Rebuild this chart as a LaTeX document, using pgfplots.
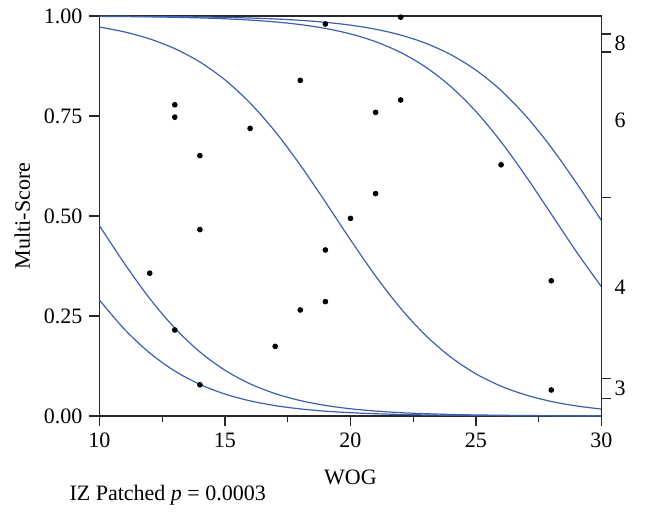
\documentclass[border=0pt]{standalone}
\usepackage{pgfplots}
\usepackage{pgfplotstable}
\pgfplotsset{compat=1.18}
\usepackage{fontspec}
\setmainfont{Liberation Serif}
\definecolor{curve}{RGB}{62,96,172}
\definecolor{frame}{RGB}{40,40,40}

% fitted cumulative probabilities, one column per curve
\pgfplotstableread{
x A B C D E
10 0.2897 0.4756 0.9724 0.9990 0.9995
11 0.2164 0.3805 0.9601 0.9985 0.9992
12 0.1575 0.2937 0.9427 0.9978 0.9989
13 0.1124 0.2197 0.9184 0.9967 0.9984
14 0.0789 0.1601 0.8850 0.9952 0.9976
15 0.0548 0.1143 0.8403 0.9930 0.9965
16 0.0378 0.0804 0.7825 0.9898 0.9949
17 0.0259 0.0559 0.7111 0.9852 0.9926
18 0.0177 0.0385 0.6273 0.9785 0.9892
19 0.0120 0.0264 0.5351 0.9689 0.9842
20 0.0082 0.0180 0.4404 0.9552 0.9771
21 0.0056 0.0123 0.3499 0.9358 0.9669
22 0.0038 0.0083 0.2690 0.9088 0.9523
23 0.0026 0.0057 0.2011 0.8721 0.9318
24 0.0017 0.0038 0.1469 0.8233 0.9033
25 0.0012 0.0026 0.1053 0.7612 0.8646
26 0.0008 0.0018 0.0745 0.6854 0.8137
27 0.0005 0.0012 0.0522 0.5984 0.7491
28 0.0004 0.0008 0.0363 0.5047 0.6713
29 0.0002 0.0006 0.0251 0.4107 0.5827
30 0.0002 0.0004 0.0173 0.3228 0.4885
}\curves

% observations
\pgfplotstableread{
x y
13 0.778
13 0.747
14 0.651
16 0.719
18 0.839
19 0.980
20 0.494
14 0.466
12 0.357
13 0.215
14 0.078
17 0.174
18 0.265
19 0.286
19 0.415
22 0.997
22 0.790
21 0.759
26 0.628
21 0.556
28 0.338
28 0.065
}\obs

\begin{document}
\begin{tikzpicture}
\pgfplotsset{
  every axis/.append style={
    scale only axis, width=251pt, height=200pt,
    xmin=10, xmax=30, ymin=0, ymax=1,
    axis line style={frame, line width=0.6pt},
    tick style={frame, line width=0.6pt},
    tick align=outside,
    font=\fontsize{11}{13}\selectfont,
    /pgf/number format/assume math mode=true,
  }
}
\begin{axis}[
  clip=false,
  xtick={10,15,20,25,30},
  minor x tick num=1,
  xtick pos=lower,
  ytick={0,0.25,0.5,0.75,1},
  ytick pos=left,
  major tick length=5pt,
  minor tick length=3pt,
  yticklabel style={/pgf/number format/fixed, /pgf/number format/fixed zerofill, /pgf/number format/precision=2},
  xlabel={WOG},
  ylabel={Multi-Score},
  xlabel style={yshift=-4pt},
]
\addplot[curve, line width=0.6pt, smooth] table[x=x, y=A] {\curves};
\addplot[curve, line width=0.6pt, smooth] table[x=x, y=B] {\curves};
\addplot[curve, line width=0.6pt, smooth] table[x=x, y=C] {\curves};
\addplot[curve, line width=0.6pt, smooth] table[x=x, y=D] {\curves};
\addplot[curve, line width=0.6pt, smooth] table[x=x, y=E] {\curves};
\addplot[only marks, mark=*, mark size=1.2pt, black] table[x=x, y=y] {\obs};
\end{axis}
\begin{axis}[
  axis x line=none,
  axis y line*=right,
  ytick={0.043,0.093,0.546,0.910,0.955},
  yticklabels={},
  major tick length=4.5pt,
  extra y ticks={0.07,0.321,0.739,0.932},
  extra y tick labels={3,4,6,8},
  extra y tick style={major tick length=0pt},
  yticklabel style={xshift=3pt},
]
\end{axis}
\node[anchor=base west, font=\fontsize{11}{13}\selectfont] at (-18.5pt,-42.25pt) {IZ Patched \textit{p} = 0.0003};
\pgfresetboundingbox
\path (-49.75pt,-47.75pt) rectangle (272.75pt,208pt);
\end{tikzpicture}
\end{document}
